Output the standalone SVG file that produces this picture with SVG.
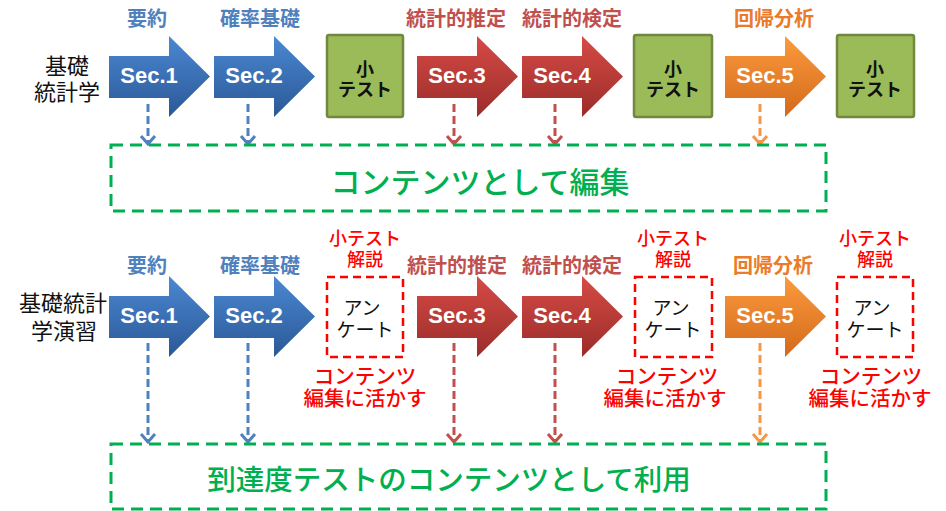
<svg xmlns="http://www.w3.org/2000/svg" xmlns:xlink="http://www.w3.org/1999/xlink" width="946" height="511" viewBox="0 0 946 511">
<style>
.jp{font-family:"Noto Sans CJK JP","Noto Sans",sans-serif}
.lbl{font-size:20px;font-weight:bold;text-anchor:middle}
.lb{fill:#4f81bd}.lr{fill:#c0504d}.lo{fill:#ea7b2a}
.sec{font-family:"Liberation Sans",Arial,sans-serif;font-size:22px;font-weight:bold;fill:#fff;text-anchor:middle}
.side{font-size:22px;fill:#111;text-anchor:middle}
.quiz{fill:#9bbb59;stroke:#71893f;stroke-width:2.5}
.qt{font-size:18px;font-weight:bold;fill:#111;text-anchor:middle}
.rbox{fill:none;stroke:#ff0000;stroke-width:2.5;stroke-dasharray:8 5}
.rt{font-size:18px;font-weight:500;fill:#ff0000;text-anchor:middle}
.rt2{font-size:20.5px;font-weight:500;fill:#ff0000;text-anchor:middle}
.an{font-size:19px;fill:#111;text-anchor:middle}
.gbox{fill:none;stroke:#00b050;stroke-width:3;stroke-dasharray:12 7}
.gt{font-size:30px;font-weight:500;fill:#00b050;text-anchor:middle}
.dl{fill:none;stroke-width:3;stroke-dasharray:8 4}
.db{stroke:#4f81bd}.dr{stroke:#c0504d}.do{stroke:#f79646}
</style>
<defs>
<linearGradient id="gB" x1="0" y1="0" x2="0" y2="1"><stop offset="0" stop-color="#4a88d2"/><stop offset="1" stop-color="#2b5896"/></linearGradient>
<linearGradient id="gR" x1="0" y1="0" x2="0" y2="1"><stop offset="0" stop-color="#d64b46"/><stop offset="1" stop-color="#9a2c29"/></linearGradient>
<linearGradient id="gO" x1="0" y1="0" x2="0" y2="1"><stop offset="0" stop-color="#fb9b3e"/><stop offset="1" stop-color="#d4691a"/></linearGradient>
<path id="arr" d="M0,20 H60 V0 L101,40.5 L60,81 V62 H0 Z"/>
<marker id="mB" viewBox="-10 -9 12 18" refX="0" refY="0" markerWidth="12" markerHeight="18" markerUnits="userSpaceOnUse" orient="auto"><path d="M-8,-7 L0,0 L-8,7" fill="none" stroke="#4f81bd" stroke-width="3"/></marker>
<marker id="mR" viewBox="-10 -9 12 18" refX="0" refY="0" markerWidth="12" markerHeight="18" markerUnits="userSpaceOnUse" orient="auto"><path d="M-8,-7 L0,0 L-8,7" fill="none" stroke="#c0504d" stroke-width="3"/></marker>
<marker id="mO" viewBox="-10 -9 12 18" refX="0" refY="0" markerWidth="12" markerHeight="18" markerUnits="userSpaceOnUse" orient="auto"><path d="M-8,-7 L0,0 L-8,7" fill="none" stroke="#f79646" stroke-width="3"/></marker>
</defs>

<g id="label-top" class="jp"><text class="side" x="67" y="74">基礎</text><text class="side" x="67" y="100">統計学</text></g>
<g id="label-bottom" class="jp"><text class="side" x="63" y="311">基礎統計</text><text class="side" x="64" y="339">学演習</text></g>

<g id="connectors">
<line class="dl db" x1="148" y1="104" x2="148" y2="144" marker-end="url(#mB)"/>
<line class="dl db" x1="248" y1="104" x2="248" y2="144" marker-end="url(#mB)"/>
<line class="dl dr" x1="454" y1="104" x2="454" y2="144" marker-end="url(#mR)"/>
<line class="dl dr" x1="555" y1="104" x2="555" y2="144" marker-end="url(#mR)"/>
<line class="dl do" x1="760" y1="104" x2="760" y2="144" marker-end="url(#mO)"/>
<line class="dl db" x1="148" y1="343" x2="148" y2="442" marker-end="url(#mB)"/>
<line class="dl db" x1="248" y1="343" x2="248" y2="442" marker-end="url(#mB)"/>
<line class="dl dr" x1="454" y1="343" x2="454" y2="442" marker-end="url(#mR)"/>
<line class="dl dr" x1="555" y1="343" x2="555" y2="442" marker-end="url(#mR)"/>
<line class="dl do" x1="760" y1="343" x2="760" y2="442" marker-end="url(#mO)"/>
</g>

<g id="t-sec1"><use xlink:href="#arr" x="109" y="36" fill="url(#gB)"/><text class="sec" x="149" y="83">Sec.1</text><text class="jp lbl lb" x="147" y="26">要約</text></g>
<g id="t-sec2"><use xlink:href="#arr" x="214" y="36" fill="url(#gB)"/><text class="sec" x="254" y="83">Sec.2</text><text class="jp lbl lb" x="260" y="26">確率基礎</text></g>
<g id="t-quiz1"><rect class="quiz" x="327" y="35" width="76" height="82" rx="2"/><text class="jp qt" x="365" y="76">小</text><text class="jp qt" x="365" y="96">テスト</text></g>
<g id="t-sec3"><use xlink:href="#arr" x="417" y="36" fill="url(#gR)"/><text class="sec" x="457" y="83">Sec.3</text><text class="jp lbl lr" x="456" y="26">統計的推定</text></g>
<g id="t-sec4"><use xlink:href="#arr" x="522" y="36" fill="url(#gR)"/><text class="sec" x="562" y="83">Sec.4</text><text class="jp lbl lr" x="572" y="26">統計的検定</text></g>
<g id="t-quiz2"><rect class="quiz" x="634" y="35" width="78" height="82" rx="2"/><text class="jp qt" x="673" y="76">小</text><text class="jp qt" x="673" y="96">テスト</text></g>
<g id="t-sec5"><use xlink:href="#arr" x="725" y="36" fill="url(#gO)"/><text class="sec" x="765" y="83">Sec.5</text><text class="jp lbl lo" x="774" y="26">回帰分析</text></g>
<g id="t-quiz3"><rect class="quiz" x="837" y="35" width="77" height="82" rx="2"/><text class="jp qt" x="875" y="76">小</text><text class="jp qt" x="875" y="96">テスト</text></g>

<g id="content-edit"><rect class="gbox" x="111" y="145" width="715" height="66"/><text class="jp gt" x="480" y="193">コンテンツとして編集</text></g>

<g id="b-sec1"><use xlink:href="#arr" x="109" y="276" fill="url(#gB)"/><text class="sec" x="149" y="323">Sec.1</text><text class="jp lbl lb" x="147" y="273">要約</text></g>
<g id="b-sec2"><use xlink:href="#arr" x="214" y="276" fill="url(#gB)"/><text class="sec" x="254" y="323">Sec.2</text><text class="jp lbl lb" x="260" y="273">確率基礎</text></g>
<g id="b-survey1"><text class="jp rt" x="365" y="245">小テスト</text><text class="jp rt" x="365" y="266">解説</text><rect class="rbox" x="327" y="277" width="76" height="80"/><text class="jp an" x="362" y="315">アン</text><text class="jp an" x="365" y="337">ケート</text><text class="jp rt2" x="365" y="384">コンテンツ</text><text class="jp rt2" x="365" y="406">編集に活かす</text></g>
<g id="b-sec3"><use xlink:href="#arr" x="417" y="276" fill="url(#gR)"/><text class="sec" x="457" y="323">Sec.3</text><text class="jp lbl lr" x="457" y="273">統計的推定</text></g>
<g id="b-sec4"><use xlink:href="#arr" x="522" y="276" fill="url(#gR)"/><text class="sec" x="562" y="323">Sec.4</text><text class="jp lbl lr" x="572" y="273">統計的検定</text></g>
<g id="b-survey2"><text class="jp rt" x="673" y="245">小テスト</text><text class="jp rt" x="673" y="266">解説</text><rect class="rbox" x="635" y="277" width="77" height="80"/><text class="jp an" x="671" y="315">アン</text><text class="jp an" x="673" y="337">ケート</text><text class="jp rt2" x="667" y="384">コンテンツ</text><text class="jp rt2" x="665" y="406">編集に活かす</text></g>
<g id="b-sec5"><use xlink:href="#arr" x="725" y="276" fill="url(#gO)"/><text class="sec" x="765" y="323">Sec.5</text><text class="jp lbl lo" x="773" y="273">回帰分析</text></g>
<g id="b-survey3"><text class="jp rt" x="875" y="245">小テスト</text><text class="jp rt" x="875" y="266">解説</text><rect class="rbox" x="837" y="277" width="76" height="80"/><text class="jp an" x="872" y="315">アン</text><text class="jp an" x="875" y="337">ケート</text><text class="jp rt2" x="871" y="384">コンテンツ</text><text class="jp rt2" x="870" y="406">編集に活かす</text></g>

<g id="content-test"><rect class="gbox" x="111" y="444" width="715" height="65"/><text class="jp gt" x="449" y="490" style="font-size:28.5px">到達度テストのコンテンツとして利用</text></g>
</svg>
